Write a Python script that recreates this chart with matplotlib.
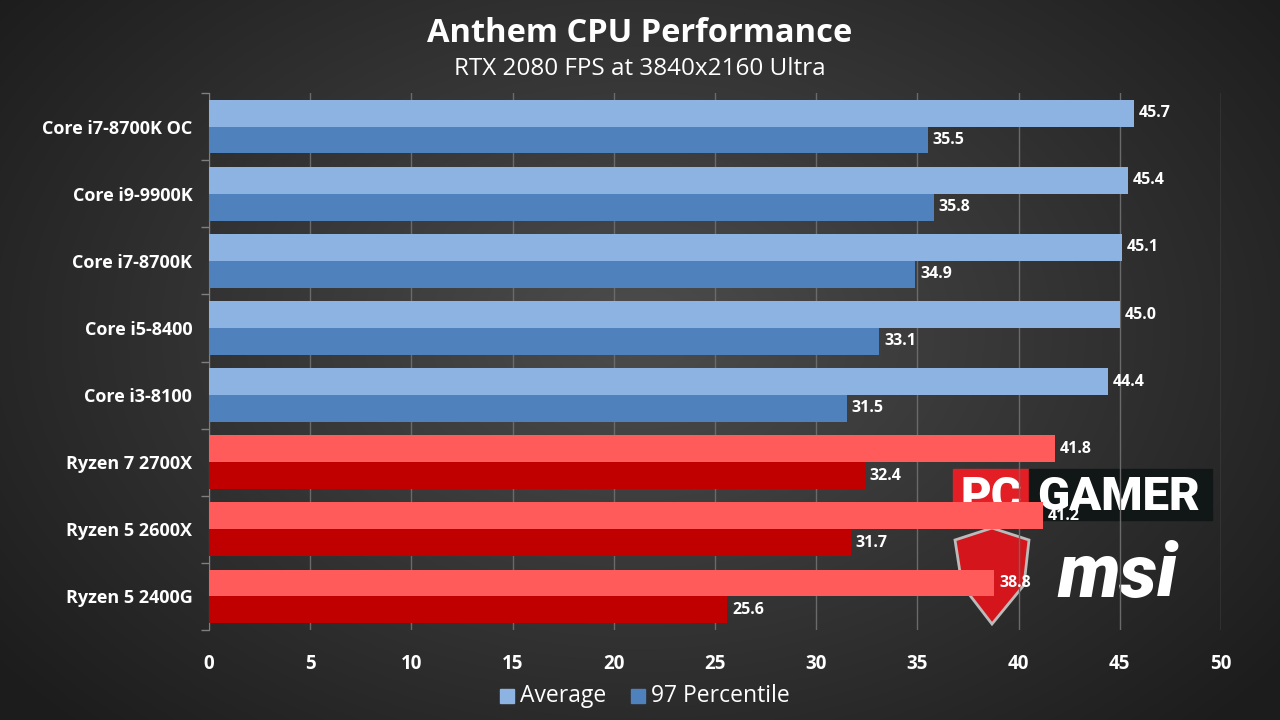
"""
plot.py

Anthem CPU performance chart (RTX 2080, 3840x2160 Ultra).
"""

import matplotlib.pyplot as plt
import numpy as np
from matplotlib.patches import Rectangle, Polygon

# Data
cpus = [
    "Core i7-8700K OC",
    "Core i9-9900K",
    "Core i7-8700K",
    "Core i5-8400",
    "Core i3-8100",
    "Ryzen 7 2700X",
    "Ryzen 5 2600X",
    "Ryzen 5 2400G",
]
average = [45.7, 45.4, 45.1, 45.0, 44.4, 41.8, 41.2, 38.8]
percentile97 = [35.5, 35.8, 34.9, 33.1, 31.5, 32.4, 31.7, 25.6]
vendor = ["intel"] * 5 + ["amd"] * 3

colors = {
    "intel": ("#8db3e2", "#4f81bd"),
    "amd": ("#ff5b5b", "#c00000"),
}

plt.rcParams["font.family"] = ["Open Sans", "DejaVu Sans"]

fig = plt.figure(figsize=(12.8, 7.2), dpi=100)

# Radial gradient background
bg = fig.add_axes([0, 0, 1, 1])
yy, xx = np.mgrid[0:720, 0:1280]
r = np.sqrt(((xx - 640) / 900) ** 2 + ((yy - 330) / 620) ** 2)
shade = np.clip(0.30 - 0.21 * r, 0.11, 0.30)
bg.imshow(np.dstack([shade, shade, shade]), extent=[0, 1280, 720, 0], aspect="auto")
bg.set_xlim(0, 1280)
bg.set_ylim(720, 0)
bg.axis("off")

# Plot area in pixels: x 209..1221, y 93..630
ax = fig.add_axes([209 / 1280, 1 - 630 / 720, 1012 / 1280, 537 / 720])
ax.patch.set_alpha(0)

n = len(cpus)
h = 0.4
for i in range(n):
    c_avg, c_97 = colors[vendor[i]]
    ax.barh(i - h / 2, average[i], height=h, color=c_avg, zorder=3)
    ax.barh(i + h / 2, percentile97[i], height=h, color=c_97, zorder=3)
    ax.text(average[i] + 0.25, i - h / 2, f"{average[i]:.1f}", color="white",
            fontsize=11.5, fontweight="bold", va="center", ha="left", zorder=4)
    ax.text(percentile97[i] + 0.25, i + h / 2, f"{percentile97[i]:.1f}", color="white",
            fontsize=11.5, fontweight="bold", va="center", ha="left", zorder=4)

ax.set_xlim(0, 50)
ax.set_ylim(n - 0.5, -0.5)
ax.set_xticks(np.arange(0, 51, 5))
ax.set_yticks(range(n))
ax.set_yticklabels(cpus)
ax.set_yticks(np.arange(-0.5, n, 1), minor=True)
ax.tick_params(axis="x", colors="white", labelsize=13.5, length=0, pad=17)
ax.tick_params(axis="y", which="major", colors="white", labelsize=13, length=0, pad=12)
ax.tick_params(axis="y", which="minor", length=6, color="#7f7f7f", width=1)
for lbl in ax.get_xticklabels() + ax.get_yticklabels():
    lbl.set_fontweight("bold")
    lbl.set_color("white")

ax.grid(axis="x", color="#6a6a6a", linewidth=1, zorder=0)
for side in ["top", "right", "bottom"]:
    ax.spines[side].set_visible(False)
ax.spines["left"].set_color("#7f7f7f")

# Titles
fig.text(0.5, 1 - 34 / 720, "Anthem CPU Performance", color="white",
         fontsize=23.5, fontweight="bold", ha="center", va="center")
fig.text(0.5, 1 - 69 / 720, "RTX 2080 FPS at 3840x2160 Ultra", color="white",
         fontsize=17.5, ha="center", va="center")

# Legend
fig.patches.append(Rectangle((500 / 1280, 1 - 703 / 720), 14 / 1280, 14 / 720,
                             transform=fig.transFigure, color="#8db3e2"))
fig.text(520 / 1280, 1 - 696 / 720, "Average", color="white", fontsize=16.5,
         va="center", ha="left")
fig.patches.append(Rectangle((631 / 1280, 1 - 703 / 720), 14 / 1280, 14 / 720,
                             transform=fig.transFigure, color="#4f81bd"))
fig.text(651 / 1280, 1 - 696 / 720, "97 Percentile", color="white", fontsize=16.5,
         va="center", ha="left")

# Logos (approximation)
bg.add_patch(Rectangle((953, 469), 76, 51, color="#e31e24", zorder=5))
bg.add_patch(Rectangle((1029, 469), 183, 51, color="#111616", zorder=5))
bg.text(991, 497, "PC", color="white", fontsize=34, fontweight="black",
        ha="center", va="center", zorder=6, family=["Roboto", "DejaVu Sans"])
bg.text(1119, 497, "GAMER", color="white", fontsize=34, fontweight="black",
        ha="center", va="center", zorder=6, family=["Roboto", "DejaVu Sans"])
shield = Polygon([(955, 540), (992, 528), (1029, 540), (1024, 585), (992, 624), (962, 585)],
                 closed=True, facecolor="#d4161c", edgecolor="#bbbbbb", linewidth=2, zorder=5)
bg.add_patch(shield)
bg.text(1117, 576, "msi", color="white", fontsize=54, fontweight="black", style="italic",
        ha="center", va="center", zorder=6, family=["Roboto", "DejaVu Sans"])

fig.savefig("out.png", dpi=100)
plt.close(fig)
